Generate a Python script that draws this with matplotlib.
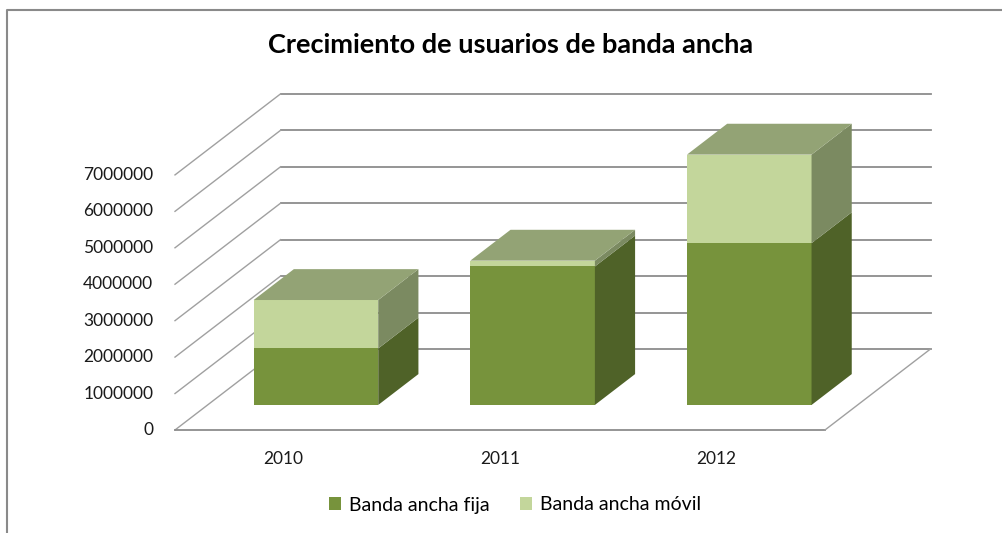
import matplotlib
matplotlib.use('Agg')
from matplotlib import pyplot as plt
from matplotlib.patches import Polygon, Patch
from matplotlib.lines import Line2D

plt.rcParams['font.family'] = ['Lato', 'DejaVu Sans']

years = ['2010', '2011', '2012']
fija = [1550000, 3800000, 4440000]
movil = [1330000, 160000, 2430000]
series_names = ['Banda ancha fija', 'Banda ancha móvil']
y_ticks = [0, 1000000, 2000000, 3000000, 4000000, 5000000, 6000000, 7000000]

# colours: front, side, top
c_fija = ('#77933c', '#4f6228', '#93a375')
c_movil = ('#c3d69b', '#7b8a61', '#93a375')
grid_c = '#8c8c8c'

# oblique projection: full depth of the floor, in data units
DX, DY = 0.487, 2223000
D0, D1 = 0.309, 0.69     # bar depth range (fraction of floor depth)
W = 0.575                # bar width

fig = plt.figure(figsize=(10.02, 5.33), dpi=100)
ax = fig.add_axes([0, 0, 1, 1])
ax.set_xlim(-1.3077, 3.317)
ax.set_ylim(-2827000, 11800000)
ax.axis('off')

x0, x1 = -0.5, len(years) - 0.5

# back wall gridlines and left wall diagonals
for v in y_ticks:
    ax.plot([x0 + DX, x1 + DX], [v + DY, v + DY], color=grid_c, lw=1.3, zorder=1)
    ax.plot([x0, x0 + DX], [v, v + DY], color='#a0a0a0', lw=1.0, zorder=1)
    ax.text(x0 - 0.1, v, str(v), ha='right', va='center', fontsize=12.5, color='#1a1a1a')

# floor
ax.plot([x0, x1], [0, 0], color=grid_c, lw=1.3, zorder=1)
ax.plot([x1, x1 + DX], [0, DY], color='#a0a0a0', lw=1.0, zorder=1)


def box(xc, bottom, top, cols, draw_top):
    l, r = xc - W / 2, xc + W / 2
    fx, fy = D0 * DX, D0 * DY
    bx, by = D1 * DX, D1 * DY
    front = [(l + fx, bottom + fy), (r + fx, bottom + fy), (r + fx, top + fy), (l + fx, top + fy)]
    side = [(r + fx, bottom + fy), (r + bx, bottom + by), (r + bx, top + by), (r + fx, top + fy)]
    ax.add_patch(Polygon(front, closed=True, fc=cols[0], ec='none', zorder=3))
    ax.add_patch(Polygon(side, closed=True, fc=cols[1], ec='none', zorder=3))
    if draw_top:
        tp = [(l + fx, top + fy), (r + fx, top + fy), (r + bx, top + by), (l + bx, top + by)]
        ax.add_patch(Polygon(tp, closed=True, fc=cols[2], ec='none', zorder=3))


for i, yr in enumerate(years):
    box(i, 0, fija[i], c_fija, False)
    box(i, fija[i], fija[i] + movil[i], c_movil, True)
    ax.text(i, -800000, yr, ha='center', va='center', fontsize=12.5, color='#1a1a1a')

# chart border
fig.add_artist(Line2D([6.5 / 1002, 6.5 / 1002, 1.0], [0, 1 - 9.5 / 533, 1 - 9.5 / 533],
                      transform=fig.transFigure, color='#8a8a8a', lw=1.5))

fig.text(511 / 1002, 1 - 45 / 533, 'Crecimiento de usuarios de banda ancha',
         ha='center', va='center', fontsize=19.5, fontweight='bold')

handles = [Patch(fc=c_fija[0]), Patch(fc=c_movil[0])]
fig.legend(handles, series_names, loc='center', bbox_to_anchor=(515 / 1002, 28 / 533),
           ncol=2, frameon=False, fontsize=14, handlelength=0.6, handleheight=0.6,
           handletextpad=0.4, columnspacing=1.6)

fig.savefig('out.png', dpi=100)
